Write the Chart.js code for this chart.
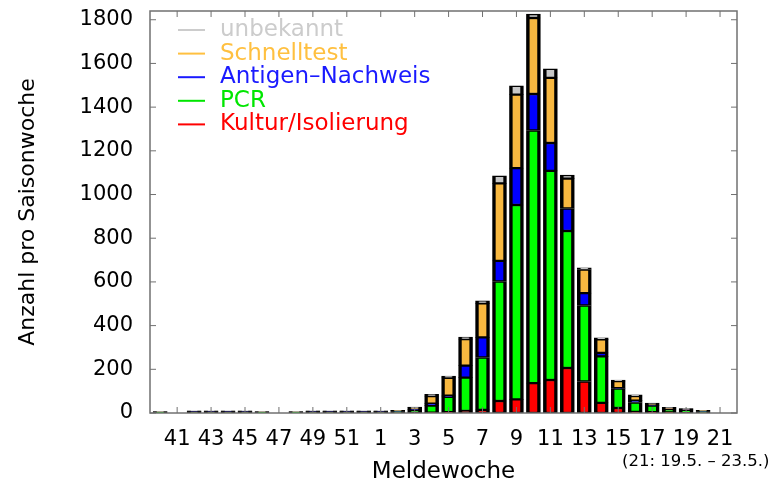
<!DOCTYPE html>
<html lang="de">
<head>
  <meta charset="UTF-8">
  <title>Meldewoche</title>
  <style>
    body { margin: 0; background: #fff; }
    #wrap { width: 771px; height: 485px; }
  </style>
  <script src="https://cdn.jsdelivr.net/npm/chart.js"></script>
</head>
<body>
  <div id="wrap"><canvas id="chart"></canvas></div>
  <script>
    // Meldewochen 40..52, 1..21
    const weeks = [40, 41, 42, 43, 44, 45, 46, 47, 48, 49, 50, 51, 52,
                   1, 2, 3, 4, 5, 6, 7, 8, 9, 10, 11, 12, 13, 14, 15, 16, 17, 18, 19, 20, 21];

    const kultur    = [0, 0, 1, 1, 1, 1, 0, 0, 0, 1, 1, 1, 1, 1, 1, 1, 2, 4, 9, 14, 55, 62, 137, 151, 206, 144, 46, 23, 5, 4, 3, 2, 1, 0];
    const pcr       = [4, 0, 5, 5, 5, 5, 4, 0, 4, 5, 5, 5, 5, 5, 6, 14, 32, 70, 153, 240, 547, 890, 1156, 957, 627, 348, 213, 89, 43, 30, 14, 11, 6, 0];
    const antigen   = [0, 0, 1, 1, 1, 1, 0, 0, 0, 1, 1, 1, 1, 1, 1, 2, 9, 5, 55, 92, 94, 169, 167, 128, 103, 57, 16, 2, 9, 3, 2, 2, 1, 0];
    const schnell   = [1, 0, 2, 2, 2, 2, 1, 0, 1, 2, 2, 2, 2, 2, 3, 7, 34, 82, 121, 156, 355, 336, 348, 298, 137, 108, 62, 32, 21, 6, 5, 4, 3, 0];
    const unbekannt = [1, 0, 1, 1, 1, 1, 1, 0, 1, 1, 1, 1, 1, 1, 1, 3, 9, 8, 9, 11, 34, 41, 18, 41, 16, 7, 7, 5, 5, 2, 2, 1, 1, 0];

    const yTicks = [0, 200, 400, 600, 800, 1000, 1200, 1400, 1600, 1800];

    const series = [
      { label: 'Kultur/Isolierung', data: kultur, color: '#ff0000', text: '#ff0000' },
      { label: 'PCR', data: pcr, color: '#00ff00', text: '#00e600' },
      { label: 'Antigen–Nachweis', data: antigen, color: '#0000ff', text: '#1a1aff' },
      { label: 'Schnelltest', data: schnell, color: '#f8b840', text: '#ffc040' },
      { label: 'unbekannt', data: unbekannt, color: '#c8c8c8', text: '#cccccc' }
    ];

    const FONT = 'DejaVu Sans';
    Chart.defaults.font.family = FONT;
    Chart.defaults.color = '#000';

    const frame = {
      id: 'frame',
      afterDatasetsDraw(chart) {
        const { ctx, chartArea: a, scales } = chart;
        ctx.save();
        ctx.strokeStyle = '#707070';
        ctx.lineWidth = 1.5;
        ctx.strokeRect(a.left, a.top, a.right - a.left, a.bottom - a.top);
        ctx.lineWidth = 1;
        ctx.beginPath();
        yTicks.forEach(v => {
          const y = scales.y.getPixelForValue(v);
          ctx.moveTo(a.left, y); ctx.lineTo(a.left + 6, y);
          ctx.moveTo(a.right, y); ctx.lineTo(a.right - 6, y);
        });
        weeks.forEach((w, i) => {
          if (w % 2 === 0) return;
          const x = scales.x.getPixelForValue(i);
          ctx.moveTo(x, a.bottom); ctx.lineTo(x, a.bottom - 6);
          ctx.moveTo(x, a.top); ctx.lineTo(x, a.top + 6);
        });
        ctx.stroke();

        // legend, top to bottom
        ctx.font = '23px "' + FONT + '"';
        ctx.textBaseline = 'middle';
        ctx.textAlign = 'left';
        const order = series.slice().reverse();
        order.forEach((s, k) => {
          const y = a.top + 19 + k * 23.6;
          ctx.strokeStyle = s.text;
          ctx.lineWidth = 2;
          ctx.beginPath();
          ctx.moveTo(a.left + 28, y); ctx.lineTo(a.left + 55, y);
          ctx.stroke();
          ctx.fillStyle = s.text;
          ctx.fillText(s.label, a.left + 70, y);
        });

        ctx.fillStyle = '#000';
        ctx.font = '16.5px "' + FONT + '"';
        ctx.fillText('(21: 19.5. – 23.5.)', 622, 462);
        ctx.restore();
      }
    };

    new Chart(document.getElementById('chart'), {
      type: 'bar',
      data: {
        datasets: series.map(s => ({
          label: s.label,
          data: s.data.map((v, i) => ({ x: i, y: v })),
          backgroundColor: s.color,
          borderColor: '#000',
          borderWidth: { top: 1.5, bottom: 1.5, left: 3.5, right: 3.5 },
          borderSkipped: false,
          barThickness: 14
        }))
      },
      options: {
        responsive: true,
        maintainAspectRatio: false,
        animation: false,
        layout: { padding: { left: 0, right: 34, top: 11, bottom: 0 } },
        plugins: { legend: { display: false }, tooltip: { enabled: false } },
        scales: {
          x: {
            type: 'linear',
            stacked: true,
            offset: false,
            min: -0.6,
            max: 34,
            grid: { display: false, drawTicks: false },
            border: { display: false },
            afterBuildTicks(scale) {
              scale.ticks = weeks.map((w, i) => ({ value: i })).filter(t => weeks[t.value] % 2 === 1);
            },
            afterFit(scale) {
              scale.height = 72;
              scale.paddingLeft = 0; scale.paddingRight = 0;
            },
            ticks: {
              autoSkip: false,
              maxRotation: 0,
              padding: 14,
              font: { size: 21 },
              color: '#000',
              callback: v => weeks[v]
            },
            title: {
              display: true,
              text: 'Meldewoche',
              font: { size: 23, lineHeight: 1.1 },
              color: '#000',
              padding: { top: 0, bottom: 0 }
            }
          },
          y: {
            stacked: true,
            min: 0,
            max: 1840,
            grid: { display: false, drawTicks: false },
            border: { display: false },
            afterBuildTicks(scale) {
              scale.ticks = yTicks.map(v => ({ value: v }));
            },
            afterFit(scale) {
              scale.width = 150;
              scale.paddingTop = 0; scale.paddingBottom = 0;
            },
            ticks: {
              autoSkip: false,
              padding: 17,
              font: { size: 21 },
              color: '#000',
              callback: v => String(v)
            },
            title: {
              display: true,
              text: 'Anzahl pro Saisonwoche',
              font: { size: 22 },
              color: '#000',
              padding: { top: 15, bottom: 0 }
            }
          }
        }
      },
      plugins: [frame]
    });
  </script>
</body>
</html>
